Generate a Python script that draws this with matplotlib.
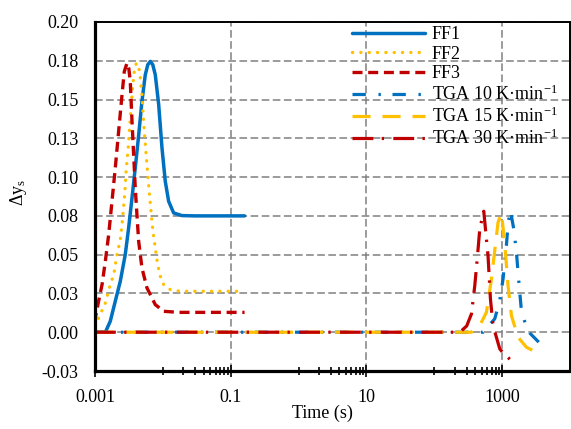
import matplotlib
matplotlib.use("Agg")
import matplotlib.pyplot as plt
from matplotlib.ticker import FixedLocator, NullFormatter

plt.rcParams['font.family'] = ['Liberation Serif', 'DejaVu Serif']
plt.rcParams['font.size'] = 13
plt.rcParams['mathtext.fontset'] = 'custom'
plt.rcParams['mathtext.rm'] = 'Liberation Serif'
plt.rcParams['mathtext.it'] = 'Liberation Serif:italic'
plt.rcParams['lines.scale_dashes'] = False

# fixed-film runs (time in s, delta y_s)
ff1_t = [0.001, 0.00142, 0.00168, 0.00199, 0.00236, 0.00279, 0.00313, 0.00351, 0.00392, 0.0044,
         0.00492, 0.00551, 0.006, 0.00652, 0.0071, 0.00773, 0.00867, 0.0097, 0.01085, 0.01217,
         0.01442, 0.0191, 0.03, 0.16]
ff1_y = [0.0, 0.0, 0.0071, 0.020, 0.0329, 0.050, 0.0672, 0.0866, 0.106, 0.127,
         0.149, 0.166, 0.1725, 0.1746, 0.1725, 0.166, 0.147, 0.119, 0.0973, 0.0844,
         0.0769, 0.0752, 0.075, 0.075]

ff2_t = [0.001, 0.00113, 0.00142, 0.00168, 0.00189, 0.00211, 0.00236, 0.0025, 0.00274, 0.00289,
         0.00306, 0.00331, 0.00359, 0.00379, 0.00406, 0.0044, 0.00465, 0.00492, 0.00532, 0.00583,
         0.0064, 0.00715, 0.00773, 0.00838, 0.00916, 0.01028, 0.01285, 0.018, 0.16]
ff2_y = [0.004, 0.0092, 0.0189, 0.0307, 0.0372, 0.050, 0.0597, 0.0694, 0.0887, 0.1059,
         0.1166, 0.138, 0.1585, 0.168, 0.1735, 0.1715, 0.1640, 0.153, 0.1295, 0.108,
         0.0866, 0.065, 0.0543, 0.0436, 0.0361, 0.0307, 0.0275, 0.0264, 0.0264]

ff3_t = [0.001, 0.00101, 0.00113, 0.00127, 0.00142, 0.00159, 0.00178, 0.00199, 0.00223, 0.0025,
         0.0027, 0.00296, 0.00315, 0.00331, 0.00351, 0.00371, 0.00392, 0.00415, 0.0044, 0.00492,
         0.00583, 0.00773, 0.01028, 0.017, 0.16]
ff3_y = [0.006, 0.0092, 0.020, 0.0307, 0.0457, 0.0629, 0.0844, 0.1059, 0.1295, 0.153,
         0.168, 0.1735, 0.170, 0.1617, 0.136, 0.1145, 0.093, 0.0758, 0.0586, 0.0414,
         0.0286, 0.0178, 0.0135, 0.0128, 0.0128]

# TGA runs
tga10_t = [0.001, 524, 778, 922, 1031, 1156, 1222, 1324, 1482, 1624, 1715, 1817, 1923, 2280, 2550, 3460]
tga10_y = [0.0, 0.0, 0.0086, 0.0204, 0.0343, 0.056, 0.070, 0.0784, 0.0666, 0.0516, 0.0387, 0.0258,
           0.0139, 0.0032, -0.0005, -0.0064]

tga15_t = [0.001, 353, 468, 587, 695, 778, 871, 977, 1092, 1222, 1371, 1715, 2280, 3380]
tga15_y = [0.0, 0.0, 0.0043, 0.0129, 0.0343, 0.0526, 0.0709, 0.0769, 0.057, 0.030, 0.0107,
           -0.0032, -0.0097, -0.0135]

tga30_t = [0.001, 238, 300, 353, 395, 433, 468, 536, 620, 672, 734, 922, 1010, 1340]
tga30_y = [0.0, 0.0, 0.004, 0.0118, 0.030, 0.049, 0.0666, 0.078, 0.049, 0.0215, 0.0043,
           -0.0107, -0.0129, -0.018]

labels = ['FF1', 'FF2', 'FF3',
          r'TGA 10 K·min$^{-1}$', r'TGA 15 K·min$^{-1}$', r'TGA 30 K·min$^{-1}$']

yticks = [-0.025, 0.0, 0.025, 0.05, 0.075, 0.1, 0.125, 0.15, 0.175, 0.2]
ytick_labels = ['-0.03', '0.00', '0.03', '0.05', '0.08', '0.10', '0.13', '0.15', '0.18', '0.20']
xticks = [0.001, 0.1, 10, 1000]
xtick_labels = ['0.001', '0.1', '10', '1000']

blue = '#0070C0'
gold = '#FFC000'
red = '#C00000'

fig = plt.figure(figsize=(5.71, 4.29), dpi=100)
ax = fig.add_axes([95 / 571, 58 / 429, 475 / 571, 349 / 429])

ax.plot(ff1_t, ff1_y, color=blue, lw=2.5, solid_capstyle='round', solid_joinstyle='round', label=labels[0])
ax.plot(ff2_t, ff2_y, color=gold, lw=2.4, dashes=(0.1, 5.9), dash_capstyle='round', label=labels[1])
ax.plot(ff3_t, ff3_y, color=red, lw=2.4, dashes=(7.2, 4.1), label=labels[2])
ax.plot(tga10_t, tga10_y, color=blue, lw=2.3, dashes=(9.6, 9.1, 1.7, 8.4), label=labels[3])
ax.plot(tga15_t, tga15_y, color=gold, lw=2.3, dashes=(13, 8.6), label=labels[4])
ax.plot(tga30_t, tga30_y, color=red, lw=2.3, dashes=(15, 6, 1.7, 6.7), label=labels[5])

ax.set_xscale('log')
ax.set_xlim(0.001, 10000)
ax.set_ylim(-0.025, 0.2)

# log axis labelled every two decades, minor ticks only in the upper decade of each pair
ax.xaxis.set_major_locator(FixedLocator(xticks))
ax.set_xticklabels(xtick_labels)
minor = [m * 10.0 ** e for e in (-2, 0, 2) for m in range(1, 10)]
ax.xaxis.set_minor_locator(FixedLocator(minor))
ax.xaxis.set_minor_formatter(NullFormatter())
ax.tick_params(axis='x', which='major', direction='inout', length=8, width=1.2, pad=9, colors='black')
ax.tick_params(axis='x', which='minor', direction='inout', length=6, width=1.2)

ax.set_yticks(yticks)
ax.set_yticklabels(ytick_labels)
ax.tick_params(axis='y', length=0, pad=12)

ax.grid(True, which='major', color='#808080', lw=1.1, dashes=(5.5, 2.5))
ax.set_axisbelow(True)

for side in ('left', 'bottom'):
    ax.spines[side].set_linewidth(2.3)
for side in ('top', 'right'):
    ax.spines[side].set_linewidth(1.4)

ax.set_xlabel('Time (s)')
ax.xaxis.set_label_coords(0.478, -0.097)
ax.set_ylabel(r'$\Delta$y$_\mathrm{s}$')
ax.yaxis.set_label_coords(-0.139, 0.513)

ax.legend(loc='upper left', bbox_to_anchor=(0.541, 0.988), frameon=False, borderpad=0,
          borderaxespad=0, handlelength=4.04, handletextpad=0.39, labelspacing=0.14)

fig.savefig('out.png', dpi=100)
